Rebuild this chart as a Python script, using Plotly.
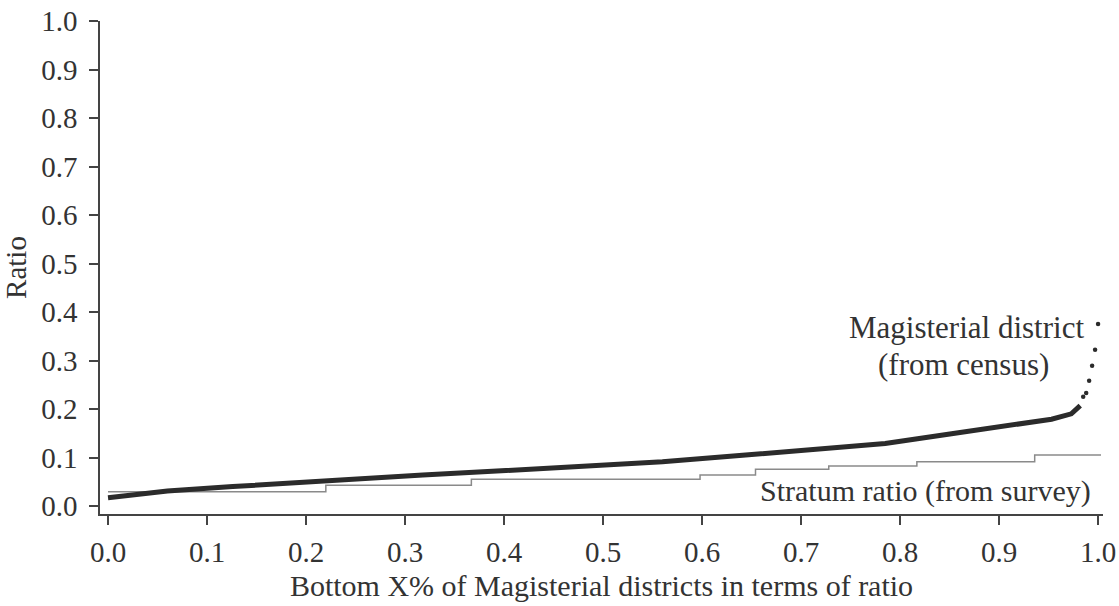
import plotly.graph_objects as go

# Magisterial district (from census) - sorted ratio curve
md_x = [0.0, 0.06, 0.126, 0.194, 0.24, 0.318, 0.402, 0.48, 0.56, 0.644, 0.72,
        0.785, 0.852, 0.919, 0.953, 0.973, 0.982]
md_y = [0.017, 0.031, 0.040, 0.049, 0.055, 0.064, 0.073, 0.081, 0.091, 0.105, 0.117,
        0.129, 0.149, 0.169, 0.179, 0.190, 0.207]
# isolated top districts
tail_x = [0.985, 0.988, 0.991, 0.994, 0.997, 1.0]
tail_y = [0.225, 0.233, 0.258, 0.289, 0.322, 0.375]

# Stratum ratio (from survey) - step function
st_x = [0.0, 0.22, 0.367, 0.598, 0.654, 0.728, 0.817, 0.936, 1.003]
st_y = [0.0295, 0.043, 0.055, 0.064, 0.076, 0.0825, 0.091, 0.105, 0.105]

x_ticks = [0.0, 0.1, 0.2, 0.3, 0.4, 0.5, 0.6, 0.7, 0.8, 0.9, 1.0]
y_ticks = [0.0, 0.1, 0.2, 0.3, 0.4, 0.5, 0.6, 0.7, 0.8, 0.9, 1.0]

FONT = "Liberation Serif"
TXT = "#333333"

fig = go.Figure()
fig.add_trace(go.Scatter(x=st_x, y=st_y, mode="lines", line=dict(color="#8a8a8a", width=1.5, shape="hv"),
                         showlegend=False, hoverinfo="skip"))
fig.add_trace(go.Scatter(x=md_x, y=md_y, mode="lines", line=dict(color="#2b2b2b", width=5),
                         showlegend=False))
fig.add_trace(go.Scatter(x=tail_x, y=tail_y, mode="markers", marker=dict(color="#2b2b2b", size=4.5),
                         showlegend=False))

fig.add_annotation(x=0.867, y=0.369, xref="x", yref="y", text="Magisterial district",
                   showarrow=False, font=dict(family=FONT, size=31, color=TXT))
fig.add_annotation(x=0.864, y=0.291, xref="x", yref="y", text="(from census)",
                   showarrow=False, font=dict(family=FONT, size=31, color=TXT))
fig.add_annotation(x=0.826, y=0.031, xref="x", yref="y", text="Stratum ratio (from survey)",
                   showarrow=False, font=dict(family=FONT, size=30, color=TXT))

axis_common = dict(showgrid=False, zeroline=False, showline=True, linecolor="#444444", linewidth=1.5,
                   ticks="outside", ticklen=9, tickwidth=1.5, tickcolor="#444444", automargin=False,
                   tickfont=dict(family=FONT, size=29, color=TXT))

fig.update_xaxes(range=[-0.0081, 1.005], tickvals=x_ticks, ticktext=[f"{v:.1f}" for v in x_ticks],
                 ticklabelstandoff=2,
                 title=dict(text="Bottom X% of Magisterial districts in terms of ratio",
                            font=dict(family=FONT, size=30, color=TXT), standoff=8),
                 **axis_common)
fig.update_yaxes(range=[-0.0165, 1.0], tickvals=y_ticks, ticktext=[f"{v:.1f}" for v in y_ticks],
                 ticklabelstandoff=6,
                 title=dict(text="Ratio", font=dict(family=FONT, size=29, color=TXT), standoff=7),
                 **axis_common)

fig.update_layout(width=1119, height=606, margin=dict(l=100, r=16, t=21, b=92),
                  paper_bgcolor="white", plot_bgcolor="white")

fig.write_html("out.html")
